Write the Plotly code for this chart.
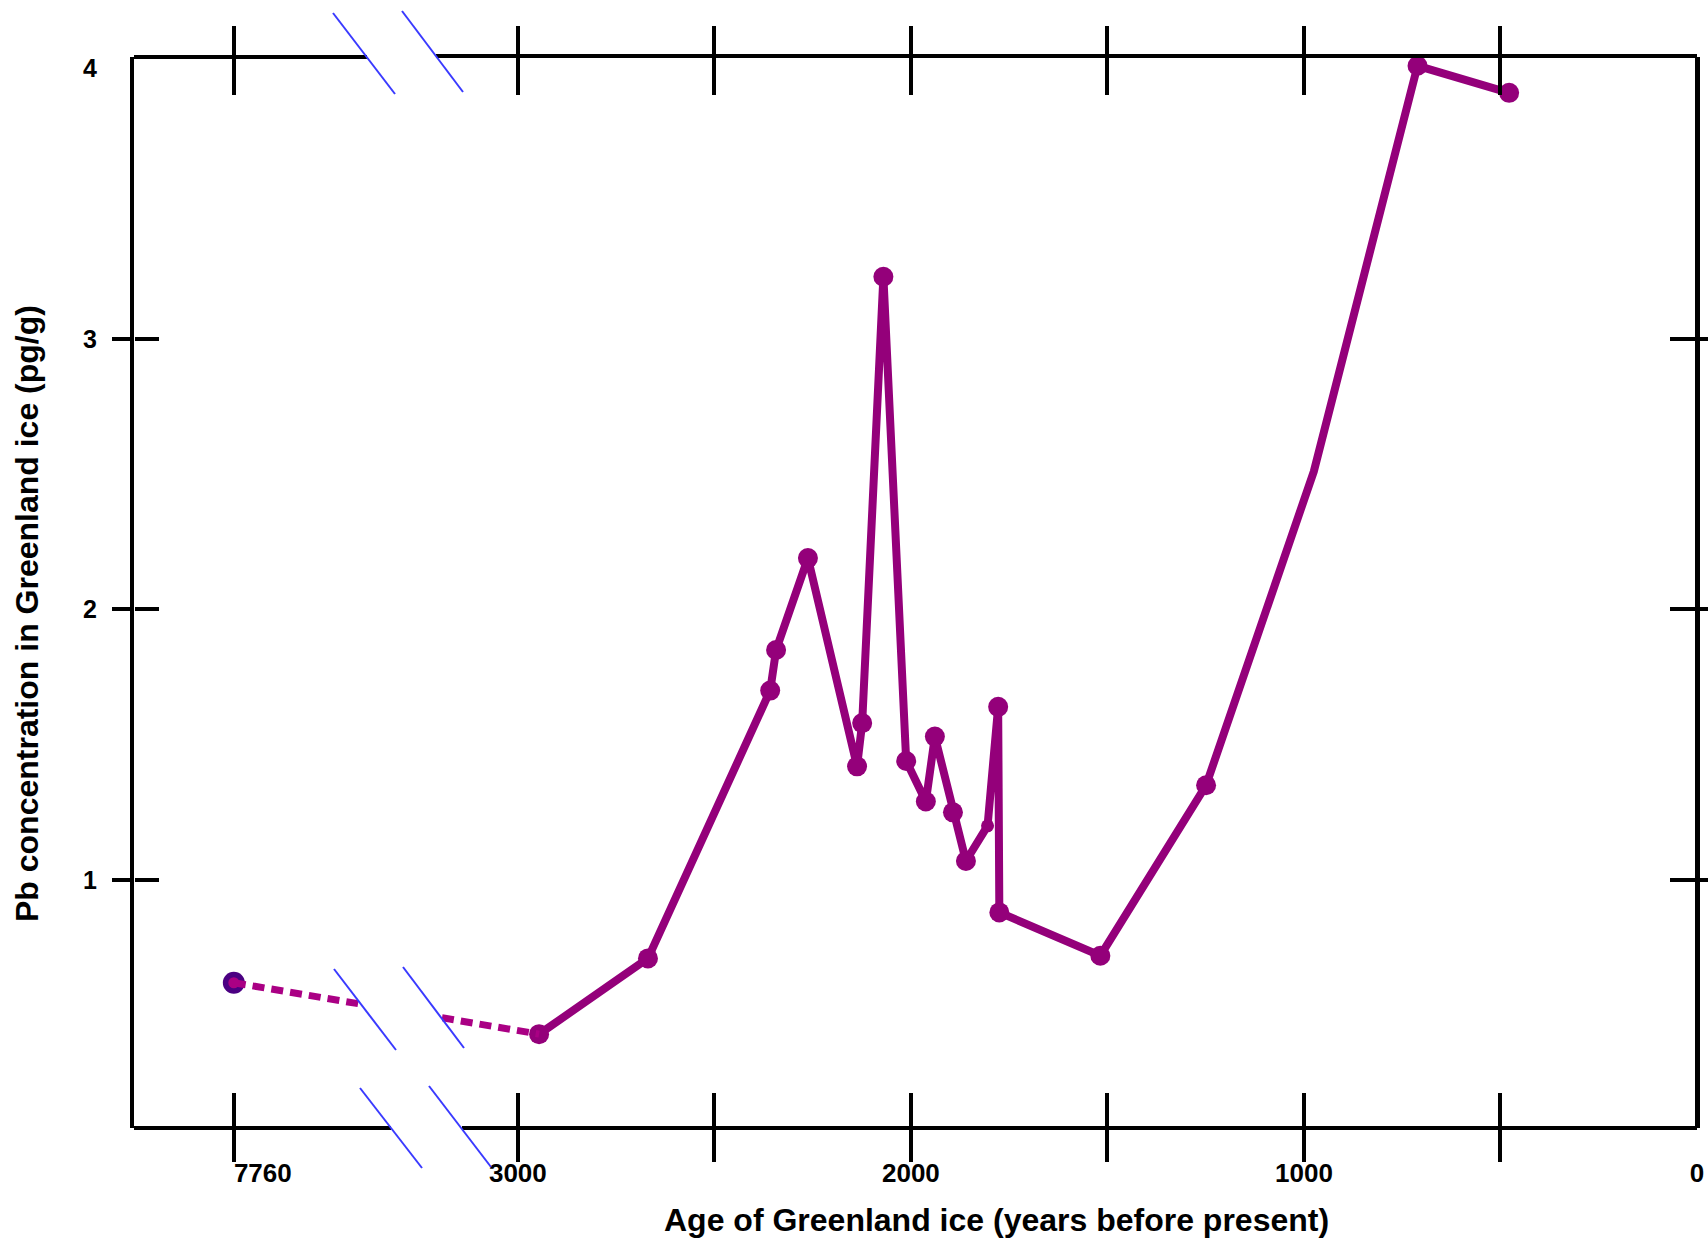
import plotly.graph_objects as go

# ---------------- data ----------------
early_age = [7760]                 # years before present (left, broken-off segment)
early_pb = [0.62]                  # Pb concentration, pg/g

age = [2946, 2669, 2358, 2343, 2262, 2137, 2124, 2070, 2012, 1962, 1939,
       1893, 1860, 1805, 1778, 1775, 1518, 1249, 975, 711, 478]
pb = [0.43, 0.71, 1.70, 1.85, 2.19, 1.42, 1.58, 3.23, 1.44, 1.29, 1.53,
      1.25, 1.07, 1.20, 1.64, 0.88, 0.72, 1.35, 2.51, 4.01, 3.91]

y_tick_vals = [1, 2, 3, 4]
y_tick_text = ["1", "2", "3", "4"]
y_mark_vals = [1, 2, 3]
early_tick_vals = [7760]
early_tick_text = ["7760"]
x_mark_vals = [3000, 2500, 2000, 1500, 1000, 500]
x_label_vals = [3000, 2000, 1000, 0]
x_label_text = ["3000", "2000", "1000", "0"]

x_title = "Age of Greenland ice (years before present)"
y_title = "Pb concentration in Greenland ice (pg/g)"

# ---------------- styles / geometry ----------------
W, H = 1708, 1240
L, R, T, B = 134, 1697, 57, 1128
PURPLE = "#94007A"
MAGENTA = "#AA0084"
INDIGO = "#4B0082"
BLUE = "#3A3AFF"
FONT = "Liberation Sans, Arial, sans-serif"

left_dom_px = (134, 360)
right_dom_px = (442, 1697)
left_range = [8014, 7439]
right_range = [3193, 0]
y_range = [0.083, 4.0425]

# per-point marker sizes for the main series (vertex at 975 has no marker)
marker_sizes = [20] * len(age)
marker_sizes[13] = 13
marker_sizes[18] = 0


def fx(px):
    return (px - L) / (R - L)


def fy(py):
    return (B - py) / (B - T)


def axis_px(v, rng, dom):
    return dom[0] + (v - rng[0]) / (rng[1] - rng[0]) * (dom[1] - dom[0])


dL = [fx(left_dom_px[0]), fx(left_dom_px[1])]
dR = [fx(right_dom_px[0]), fx(right_dom_px[1])]

# dotted connector across the axis break: straight line between the two
# neighbouring samples, cut at the edges of each segment
pA = axis_px(early_age[-1], left_range, left_dom_px)
pB = axis_px(age[0], right_range, right_dom_px)


def y_on_link(px):
    return early_pb[-1] + (pb[0] - early_pb[-1]) * (px - pA) / (pB - pA)


stub_left_x = [early_age[-1], left_range[1]]
stub_left_y = [early_pb[-1], y_on_link(left_dom_px[1])]
stub_right_x = [right_range[0], age[0]]
stub_right_y = [y_on_link(right_dom_px[0]), pb[0]]

fig = go.Figure()

# empty traces so that every tick-only overlay axis gets drawn
for xa, ya in [("x3", "y"), ("x4", "y"), ("x5", "y"), ("x6", "y"),
               ("x7", "y"), ("x8", "y"), ("x9", "y"), ("x10", "y"),
               ("x", "y2"), ("x", "y3"), ("x2", "y4"), ("x2", "y5")]:
    fig.add_trace(go.Scatter(x=[None], y=[None], xaxis=xa, yaxis=ya,
                             mode="lines", showlegend=False,
                             hoverinfo="skip"))

nol = dict(width=0)
fig.add_trace(go.Scatter(x=early_age, y=early_pb, xaxis="x", yaxis="y",
                         mode="markers", cliponaxis=False,
                         marker=dict(size=22, color=INDIGO, opacity=1,
                                     line=nol),
                         showlegend=False, hoverinfo="skip"))
fig.add_trace(go.Scatter(x=stub_left_x, y=stub_left_y, xaxis="x", yaxis="y",
                         mode="lines+markers", cliponaxis=False,
                         line=dict(color=MAGENTA, width=7, dash="12px,7px"),
                         marker=dict(size=[11, 0], color=MAGENTA, opacity=1,
                                     line=nol),
                         showlegend=False, hoverinfo="skip"))
fig.add_trace(go.Scatter(x=age, y=pb, xaxis="x2", yaxis="y",
                         mode="lines+markers", cliponaxis=False,
                         line=dict(color=PURPLE, width=8),
                         marker=dict(size=marker_sizes, color=PURPLE,
                                     opacity=1, line=nol),
                         showlegend=False, hoverinfo="skip"))
fig.add_trace(go.Scatter(x=stub_right_x, y=stub_right_y, xaxis="x2",
                         yaxis="y", mode="lines", cliponaxis=True,
                         line=dict(color=MAGENTA, width=7, dash="12px,7px"),
                         showlegend=False, hoverinfo="skip"))

base = dict(showgrid=False, zeroline=False, showline=False, fixedrange=True,
            automargin=False, tickcolor="black", tickwidth=4,
            linecolor="black")
tickfont = dict(family=FONT, size=26, color="black", weight="bold")
ytickfont = dict(family=FONT, size=25, color="black", weight="bold")


def xmark(over, rng, vals, side, ticks, ln):
    return dict(base, overlaying=over, anchor="y", side=side, range=rng,
                tickmode="array", tickvals=vals, ticks=ticks, ticklen=ln,
                showticklabels=False)


def ymark(pos, side, ticks, ln, line=False):
    return dict(base, overlaying="y", anchor="free", position=pos, side=side,
                range=y_range, tickmode="array", tickvals=y_mark_vals,
                ticks=ticks, ticklen=ln, showticklabels=False,
                showline=line, linewidth=5)


layout_axes = dict(
    xaxis=dict(base, domain=dL, range=left_range, anchor="y", side="bottom",
               tickmode="array", tickvals=early_tick_vals,
               ticktext=early_tick_text, ticks="", showticklabels=True,
               tickfont=tickfont, ticklabelstandoff=27, ticklabelshift=-29),
    xaxis2=dict(base, domain=dR, range=right_range, anchor="y", side="bottom",
                tickmode="array", tickvals=x_label_vals,
                ticktext=x_label_text, ticks="", showticklabels=True,
                tickfont=tickfont, ticklabelstandoff=27),
    xaxis3=xmark("x", left_range, early_tick_vals, "bottom", "outside", 33),
    xaxis4=xmark("x", left_range, early_tick_vals, "bottom", "inside", 35),
    xaxis5=xmark("x", left_range, early_tick_vals, "top", "outside", 30),
    xaxis6=xmark("x", left_range, early_tick_vals, "top", "inside", 38),
    xaxis7=xmark("x2", right_range, x_mark_vals, "bottom", "outside", 33),
    xaxis8=xmark("x2", right_range, x_mark_vals, "bottom", "inside", 35),
    xaxis9=xmark("x2", right_range, x_mark_vals, "top", "outside", 30),
    xaxis10=xmark("x2", right_range, x_mark_vals, "top", "inside", 38),
    yaxis=dict(base, domain=[0, 1], range=y_range, anchor="x", side="left",
               tickmode="array", tickvals=y_tick_vals, ticktext=y_tick_text,
               ticks="", showticklabels=True, tickfont=ytickfont,
               ticklabelstandoff=28, showline=True, linewidth=4),
    yaxis2=ymark(0, "left", "outside", 22),
    yaxis3=ymark(0, "left", "inside", 24),
    yaxis4=ymark(1, "right", "inside", 25, line=True),
    yaxis5=ymark(1, "right", "outside", 14),
)


def seg(x0, y0, x1, y1, color, width):
    return dict(type="line", xref="paper", yref="paper",
                x0=fx(x0), y0=fy(y0), x1=fx(x1), y1=fy(y1),
                line=dict(color=color, width=width), layer="above")


shapes = [
    # frame pieces of the broken x axis
    seg(134, 57, 367, 57, "black", 4),
    seg(436, 56, 1697, 56, "black", 4),
    seg(134, 1128, 391, 1128, "black", 4),
    seg(462, 1128, 1697, 1128, "black", 4),
    # break marks
    seg(333, 13, 395, 94, BLUE, 2),
    seg(402, 11, 463, 92, BLUE, 2),
    seg(334, 969, 396, 1050, BLUE, 2),
    seg(403, 967, 464, 1048, BLUE, 2),
    seg(360, 1088, 422, 1168, BLUE, 2),
    seg(429, 1086, 491, 1167, BLUE, 2),
]

title_font = dict(family=FONT, size=32, color="black", weight="bold")
annotations = [
    dict(text=x_title, xref="paper", yref="paper", x=fx(996), y=fy(1220),
         xanchor="center", yanchor="middle", showarrow=False, font=title_font),
    dict(text=y_title, xref="paper", yref="paper", x=fx(27), y=fy(614),
         xanchor="center", yanchor="middle", showarrow=False, textangle=-90,
         font=title_font),
]

fig.update_layout(
    width=W, height=H, autosize=False,
    margin=dict(l=L, r=W - R, t=T, b=H - B, pad=0),
    paper_bgcolor="white", plot_bgcolor="white",
    showlegend=False, shapes=shapes, annotations=annotations,
    **layout_axes,
)

fig.write_html("out.html", config=dict(displayModeBar=False),
               post_script="document.body.style.margin='0';document.body.style.overflow='hidden';")
